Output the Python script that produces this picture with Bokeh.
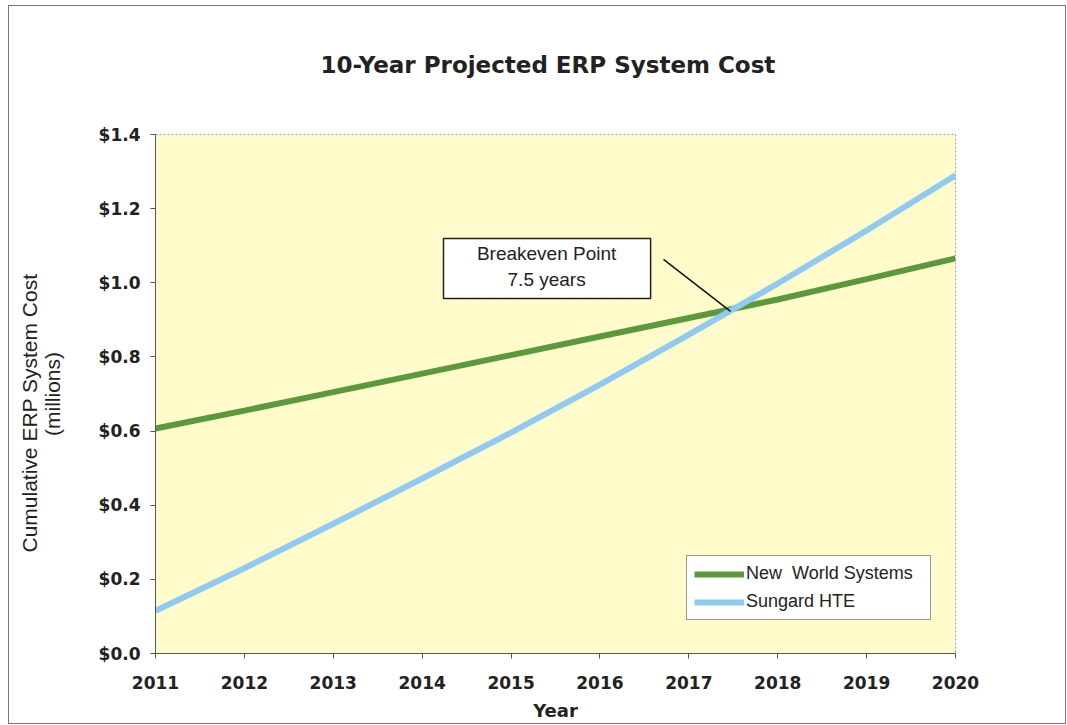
from bokeh.plotting import figure
from bokeh.models import (Range1d, NumeralTickFormatter, FixedTicker, Legend, LegendItem, Title,
                          LinearAxis)
from bokeh.core.properties import value
from bokeh.embed import file_html
from bokeh.resources import INLINE

years = [2011, 2012, 2013, 2014, 2015, 2016, 2017, 2018, 2019, 2020]
new_world = [0.607, 0.655, 0.705, 0.755, 0.805, 0.855, 0.905, 0.955, 1.010, 1.066]
sungard = [0.115, 0.230, 0.350, 0.472, 0.596, 0.725, 0.860, 0.998, 1.141, 1.290]
y_ticks = [0.0, 0.2, 0.4, 0.6, 0.8, 1.0, 1.2, 1.4]

title_text = "10-Year Projected ERP System Cost"
y_label_lines = ["Cumulative ERP System Cost", "(millions)"]

# annotation (data units)
note_box = dict(left=2014.24, right=2016.57, top=1.1195, bottom=0.9577)
note_lines = ["Breakeven Point", "7.5 years"]
note_text_x = [2015.40, 2015.40]
note_text_y = [1.078, 1.010]
pointer_x = [2016.715, 2017.469]
pointer_y = [1.063, 0.923]

p = figure(frame_width=800, frame_height=519, output_backend="svg", toolbar_location=None,
           x_range=Range1d(2011, 2020), y_range=Range1d(0, 1.4),
           min_border_left=146, min_border_right=110, min_border_top=128, min_border_bottom=70)
p.styles = {"border": "1px solid #777", "margin-left": "8px", "margin-top": "5px"}

p.background_fill_color = "#FFFBCA"
p.border_fill_color = "white"
p.outline_line_color = "#999999"
p.outline_line_dash = "2 2"
p.xgrid.visible = False
p.ygrid.visible = False

p.xaxis.ticker = FixedTicker(ticks=years)
p.yaxis.ticker = FixedTicker(ticks=y_ticks)
p.yaxis.formatter = NumeralTickFormatter(format="$0.0")
for ax in (p.xaxis[0], p.yaxis[0]):
    ax.major_label_text_font = "DejaVu Sans"
    ax.major_label_text_font_style = "bold"
    ax.major_label_text_font_size = "17px"
    ax.major_label_text_color = "#222222"
    ax.axis_line_color = "#555555"
    ax.major_tick_line_color = "#555555"
    ax.minor_tick_line_color = None
    ax.major_tick_in = 0
    ax.major_tick_out = 5
p.xaxis.major_label_standoff = 17
p.yaxis.major_label_standoff = 10

p.xaxis.axis_label = "Year"
p.xaxis.axis_label_text_font = "DejaVu Sans"
p.xaxis.axis_label_text_font_style = "bold"
p.xaxis.axis_label_text_font_size = "18px"
p.xaxis.axis_label_text_color = "#222222"
p.xaxis.axis_label_standoff = 8

p.yaxis.axis_label = y_label_lines[1]
p.yaxis.axis_label_text_font = "Liberation Sans"
p.yaxis.axis_label_text_font_style = "normal"
p.yaxis.axis_label_text_font_size = "21px"
p.yaxis.axis_label_text_color = "#222222"
p.yaxis.axis_label_standoff = 32

# invisible spacer axis above the frame (one hidden tick, empty label), then the title
spacer = LinearAxis(ticker=FixedTicker(ticks=[years[0]]), major_label_overrides={years[0]: ""},
                    axis_line_color=None, major_tick_line_color=None, minor_tick_line_color=None,
                    major_tick_in=0, major_tick_out=40, major_label_standoff=0)
p.add_layout(spacer, "above")
p.add_layout(Title(text=title_text, align="left", offset=165,
                   text_font="DejaVu Sans", text_font_style="bold", text_font_size="23px",
                   text_color="#222222", standoff=34), "above")

p.add_layout(Title(text=y_label_lines[0], align="left", offset=101, standoff=-6,
                   text_font="Liberation Sans", text_font_style="normal", text_font_size="21px",
                   text_color="#222222"), "left")

r1 = p.line(years, new_world, line_color="#5A9A3C", line_width=6)
r2 = p.line(years, sungard, line_color="#8FCAF2", line_width=6)

p.quad(left=[note_box["left"]], right=[note_box["right"]], top=[note_box["top"]],
       bottom=[note_box["bottom"]], fill_color="white", line_color="#222222", line_width=1.5)
p.text(x=note_text_x, y=note_text_y, text=note_lines, text_align="center", text_baseline="middle",
       text_font=value("Liberation Sans"), text_font_size="19px", text_color="#222222")
p.line(pointer_x, pointer_y, line_color="#111111", line_width=1.5)

legend = Legend(items=[LegendItem(label="New  World Systems", renderers=[r1]),
                       LegendItem(label="Sungard HTE", renderers=[r2])],
                location=(531, 33), glyph_width=50, glyph_height=20,
                label_text_font="Liberation Sans", label_text_font_size="18px",
                label_text_color="#222222", border_line_color="#333333",
                background_fill_color="white", background_fill_alpha=1,
                padding=7, spacing=7, label_standoff=2, label_width=177, margin=0)
p.add_layout(legend, "center")

open("out.html", "w").write(file_html(p, INLINE))
